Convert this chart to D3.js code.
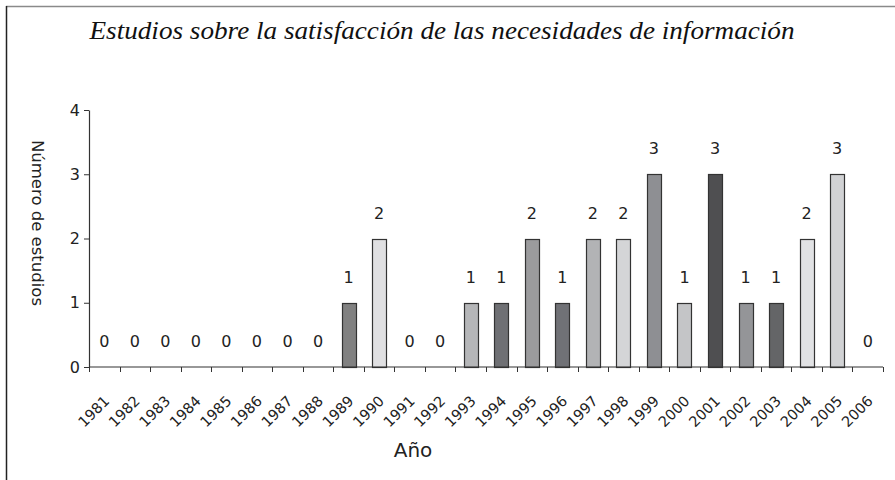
<!DOCTYPE html>
<html>
<head>
<meta charset="utf-8">
<script src="https://cdn.jsdelivr.net/npm/d3@7"></script>
<style>
  body { margin: 0; background: #fff; }
  svg { display: block; }
</style>
</head>
<body>
<div id="chart"></div>
<script>
// chart data
const years = ["1981","1982","1983","1984","1985","1986","1987","1988","1989","1990",
    "1991","1992","1993","1994","1995","1996","1997","1998","1999","2000",
    "2001","2002","2003","2004","2005","2006"];
const studies = [0,0,0,0,0,0,0,0,1,2, 0,0,1,1,2,1,2,2,3,1, 3,1,1,2,3,0];
const barColors = ["#818181","#818181","#818181","#818181","#818181","#818181","#818181","#818181","#818181","#e0e0e2",
    "#b5b6b8","#b5b6b8","#b5b6b8","#6f7074","#9b9b9d","#707176","#b2b3b5","#d4d5d7","#8e8f93","#c4c5c7",
    "#4f4f51","#949598","#646567","#e1e2e4","#d1d2d4","#d1d2d4"];
const yTicks = [0, 1, 2, 3, 4];

const titleText = "Estudios sobre la satisfacción de las necesidades de información";

const W = 895, H = 480;
const margin = { top: 110, right: 12, bottom: 113, left: 89 },
    width = W - margin.left - margin.right,
    height = H - margin.top - margin.bottom;

const sans = "'DejaVu Sans', Verdana, sans-serif";

const svg = d3.select("#chart")
    .append("svg")
    .attr("width", W)
    .attr("height", H);

// frame (top and left lines only)
svg.append("line")
    .attr("x1", 6).attr("x2", W).attr("y1", 6.5).attr("y2", 6.5)
    .attr("stroke", "#8a8a8a").attr("stroke-width", 1.5);
svg.append("line")
    .attr("x1", 6.5).attr("x2", 6.5).attr("y1", 6).attr("y2", H)
    .attr("stroke", "#222").attr("stroke-width", 1.5);

// title
svg.append("text")
    .attr("x", 442)
    .attr("y", 39)
    .attr("text-anchor", "middle")
    .attr("textLength", 705)
    .attr("lengthAdjust", "spacingAndGlyphs")
    .style("font-family", "'Liberation Serif', 'DejaVu Serif', serif")
    .style("font-style", "italic")
    .style("font-size", "26px")
    .style("fill", "#111")
    .text(titleText);

const g = svg.append("g")
    .attr("transform", `translate(${margin.left}, ${margin.top})`);

const pad = 0.54;
const x = d3.scaleBand()
    .domain(years)
    .range([0, width])
    .paddingInner(pad)
    .paddingOuter(pad / 2);

const y = d3.scaleLinear()
    .domain([0, 4])
    .range([height, 0]);

const data = years.map((yr, i) => ({ year: yr, value: studies[i], color: barColors[i] }));

// bars
g.selectAll(".bar")
    .data(data.filter(d => d.value > 0))
    .join("rect")
    .attr("class", "bar")
    .attr("x", d => Math.round(x(d.year)) + 0.5)
    .attr("y", d => Math.round(y(d.value)) + 0.5)
    .attr("width", Math.round(x.bandwidth()))
    .attr("height", d => Math.round(y(0)) - Math.round(y(d.value)))
    .attr("fill", d => d.color)
    .attr("stroke", "#333")
    .attr("stroke-width", 1.2);

// value labels
g.selectAll(".val")
    .data(data)
    .join("text")
    .attr("class", "val")
    .attr("x", d => x(d.year) + x.bandwidth() / 2)
    .attr("y", d => y(d.value) - 20)
    .attr("text-anchor", "middle")
    .style("font-family", sans)
    .style("font-size", "16px")
    .style("fill", "#222")
    .text(d => d.value);

// y axis
const yAxis = g.append("g")
    .call(d3.axisLeft(y).tickValues(yTicks).tickFormat(d3.format("d")).tickSize(5).tickSizeOuter(0));
yAxis.select(".domain").attr("stroke", "#333").attr("stroke-width", 1.2);
yAxis.selectAll(".tick line").attr("stroke", "#333");
yAxis.selectAll(".tick text")
    .attr("x", -9)
    .style("font-family", sans)
    .style("font-size", "16px")
    .style("fill", "#222");

// x axis: ticks at band boundaries
const step = x.step();
const boundaries = d3.range(years.length + 1).map(i => i * step);
g.append("line")
    .attr("x1", 0).attr("x2", width)
    .attr("y1", height).attr("y2", height)
    .attr("stroke", "#333").attr("stroke-width", 1.2);
g.selectAll(".xtick")
    .data(boundaries)
    .join("line")
    .attr("class", "xtick")
    .attr("x1", d => Math.round(d) + 0.5).attr("x2", d => Math.round(d) + 0.5)
    .attr("y1", height).attr("y2", height + 5)
    .attr("stroke", "#333");

g.selectAll(".xlab")
    .data(years)
    .join("text")
    .attr("class", "xlab")
    .attr("text-anchor", "end")
    .attr("transform", d => `translate(${x(d) + x.bandwidth() / 2 + 6}, ${height + 35}) rotate(-45)`)
    .style("font-family", sans)
    .style("font-size", "14.5px")
    .style("fill", "#222")
    .text(d => d);

// axis titles
svg.append("text")
    .attr("x", 413)
    .attr("y", 457)
    .attr("text-anchor", "middle")
    .style("font-family", sans)
    .style("font-size", "20px")
    .style("fill", "#222")
    .text("Año");

svg.append("text")
    .attr("transform", "translate(32, 223) rotate(90)")
    .attr("text-anchor", "middle")
    .style("font-family", sans)
    .style("font-size", "16.5px")
    .style("fill", "#222")
    .text("Número de estudios");
</script>
</body>
</html>
